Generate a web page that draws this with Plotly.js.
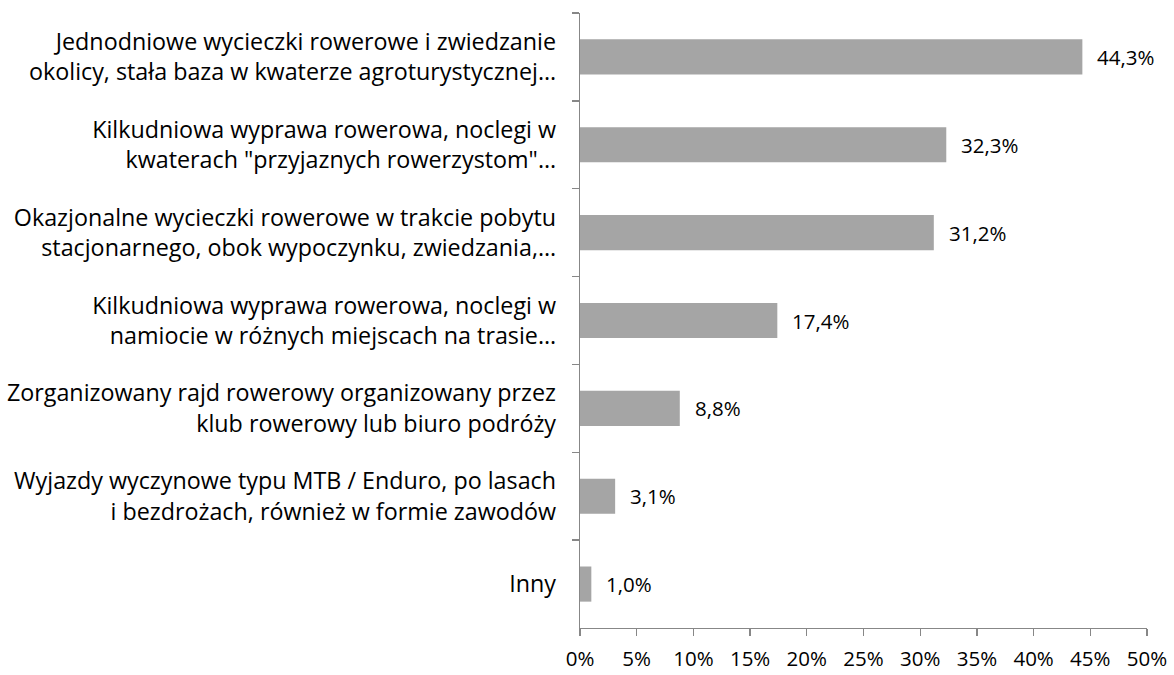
<!DOCTYPE html>
<html>
<head>
<meta charset="utf-8">
<script src="https://cdn.plot.ly/plotly-3.0.1.min.js"></script>
<style>html,body{margin:0;padding:0;background:#fff}#chart{width:1174px;height:675px}</style>
</head>
<body>
<div id="chart"></div>
<script>
const categories = [
  "Jednodniowe wycieczki rowerowe i zwiedzanie<br>okolicy, stała baza w kwaterze agroturystycznej…",
  "Kilkudniowa wyprawa rowerowa, noclegi w<br>kwaterach \"przyjaznych rowerzystom\"…",
  "Okazjonalne wycieczki rowerowe w trakcie pobytu<br>stacjonarnego, obok wypoczynku, zwiedzania,…",
  "Kilkudniowa wyprawa rowerowa, noclegi w<br>namiocie w różnych miejscach na trasie…",
  "Zorganizowany rajd rowerowy organizowany przez<br>klub rowerowy lub biuro podróży",
  "Wyjazdy wyczynowe typu MTB / Enduro, po lasach<br>i bezdrożach, również w formie zawodów",
  "Inny"
];
const values = [44.3, 32.3, 31.2, 17.4, 8.8, 3.1, 1.0];
const valueLabels = ["44,3%", "32,3%", "31,2%", "17,4%", "8,8%", "3,1%", "1,0%"];
const xTickVals = [0, 5, 10, 15, 20, 25, 30, 35, 40, 45, 50];
const xTickText = ["0%", "5%", "10%", "15%", "20%", "25%", "30%", "35%", "40%", "45%", "50%"];

const FONT = "Open Sans, Noto Sans, sans-serif";
const axisColor = "#878787";

const trace = {
  type: "bar",
  orientation: "h",
  x: values,
  y: categories,
  marker: {color: "#A5A5A5"},
  hoverinfo: "none"
};

const annotations = values.map((v, i) => ({
  x: v, y: categories[i], xref: "x", yref: "y",
  text: valueLabels[i], showarrow: false,
  xanchor: "left", yanchor: "middle", xshift: 13,
  font: {family: FONT, size: 20.5, color: "#000"}
}));

const layout = {
  width: 1174, height: 675,
  margin: {l: 580, r: 27, t: 13, b: 47},
  paper_bgcolor: "#fff", plot_bgcolor: "#fff",
  showlegend: false,
  bargap: 0.6,
  font: {family: FONT, size: 20.5, color: "#000"},
  xaxis: {
    range: [0, 50], tickvals: xTickVals, ticktext: xTickText,
    showgrid: false, zeroline: false,
    showline: true, linecolor: axisColor, linewidth: 1.3,
    ticks: "outside", ticklen: 7, tickcolor: axisColor, tickwidth: 1.3,
    tickfont: {family: FONT, size: 20.5, color: "#000"},
    ticklabelstandoff: 5, fixedrange: true
  },
  yaxis: {
    autorange: "reversed", type: "category",
    showgrid: false, zeroline: false,
    showline: true, linecolor: axisColor, linewidth: 1.3,
    ticks: "outside", tickson: "boundaries", ticklen: 7, tickcolor: axisColor, tickwidth: 1.3,
    tickfont: {family: FONT, size: 23.3, color: "#000"},
    ticklabelstandoff: 18, fixedrange: true
  },
  annotations: annotations
};

Plotly.newPlot("chart", [trace], layout, {displayModeBar: false, staticPlot: true});
</script>
</body>
</html>
